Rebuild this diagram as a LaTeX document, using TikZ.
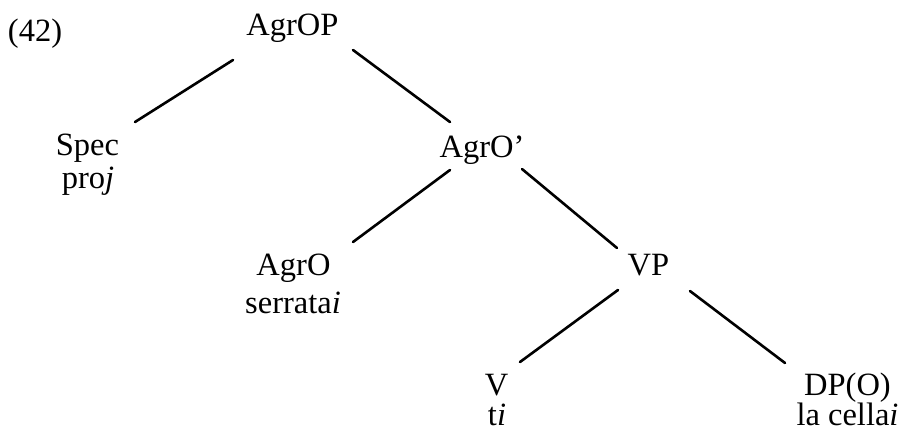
\documentclass[tikz,border=0pt]{standalone}
\usepackage{fontspec}
\setmainfont{Liberation Serif}
\usetikzlibrary{calc}
\begin{document}
\begin{tikzpicture}[x=1pt,y=1pt,
  lbl/.style={anchor=base,inner sep=0pt,font=\fontsize{32.5}{34}\selectfont},
  edge/.style={line width=2.6pt,line cap=round}]
\useasboundingbox (0,0) rectangle (900,-437);
% labels
\node[lbl] (ex) at (35,-41) {(42)};
\node[lbl] (agrop) at (292.5,-35) {AgrOP};
\node[lbl] (spec) at (87.5,-155) {Spec};
\node[lbl] (specw) at (88,-188) {pro\textit{j}};
\node[lbl] (agrobar) at (482,-157) {AgrO’};
\node[lbl] (agro) at (293.5,-275) {AgrO};
\node[lbl] (agrow) at (293,-313) {serrata\textit{i}};
\node[lbl] (vp) at (648.5,-275) {VP};
\node[lbl] (v) at (496.5,-395) {V};
\node[lbl] (vw) at (497,-425) {t\textit{i}};
\node[lbl] (dp) at (847.5,-395) {DP(O)};
\node[lbl] (dpw) at (847.5,-425) {la cella\textit{i}};
% branches
\draw[edge] ($(agrop.base)+(-59.5,-25)$) -- ($(spec.base)+(47.5,33)$);
\draw[edge] ($(agrop.base)+(60.5,-15)$) -- ($(agrobar.base)+(-32,35)$);
\draw[edge] ($(agrobar.base)+(-32,-13)$) -- ($(agro.base)+(59.5,33)$);
\draw[edge] ($(agrobar.base)+(40,-12)$) -- ($(vp.base)+(-31.5,27)$);
\draw[edge] ($(vp.base)+(-30.5,-15)$) -- ($(v.base)+(23.5,33)$);
\draw[edge] ($(vp.base)+(41.5,-16)$) -- ($(dp.base)+(-62.5,32)$);
\end{tikzpicture}
\end{document}
